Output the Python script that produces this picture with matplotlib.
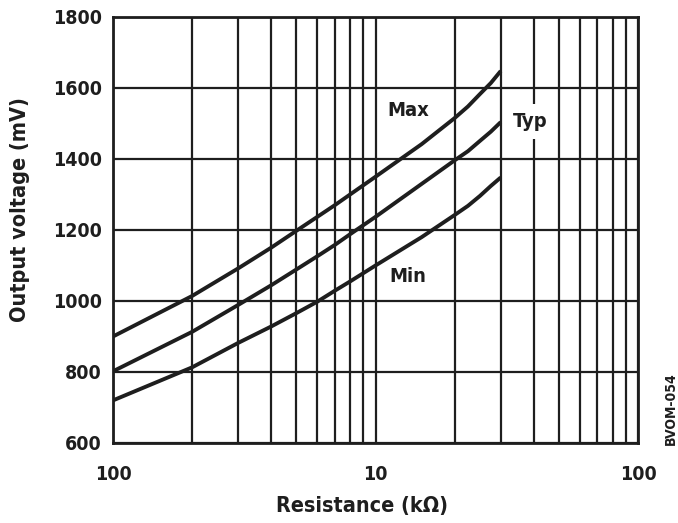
import matplotlib
matplotlib.use('Agg')
import matplotlib.pyplot as plt
from matplotlib.ticker import FixedLocator, NullFormatter

# resistance (kOhm) and output voltage (mV)
res = [1, 2, 3, 4, 5, 6, 7, 8, 10, 15, 20, 22.5, 25, 27.5, 30]
v_max = [900, 1014, 1092, 1150, 1198, 1237, 1270, 1300, 1350, 1442, 1515, 1548, 1583, 1614, 1648]
v_typ = [802, 913, 989, 1044, 1089, 1126, 1158, 1188, 1237, 1330, 1396, 1422, 1451, 1477, 1504]
v_min = [720, 813, 882, 928, 966, 998, 1029, 1055, 1100, 1180, 1242, 1268, 1296, 1324, 1348]

xtick_vals = [1, 10, 100]
xtick_labels = ['100', '10', '100']
ytick_vals = [600, 800, 1000, 1200, 1400, 1600, 1800]

plt.rcParams['font.family'] = ['DejaVu Sans']
plt.rcParams['font.stretch'] = 'condensed'
plt.rcParams['font.weight'] = 'bold'
ink = '#1e1e1e'

fig = plt.figure(figsize=(6.78, 5.23), dpi=100)
ax = fig.add_axes([0.1667, 0.153, 0.7743, 0.8145])

ax.set_xscale('log')
ax.set_xlim(1, 100)
ax.set_ylim(600, 1800)

minor = [m * d for d in (1, 10) for m in range(2, 10)]
ax.xaxis.set_major_locator(FixedLocator(xtick_vals))
ax.xaxis.set_minor_locator(FixedLocator(minor))
ax.xaxis.set_minor_formatter(NullFormatter())
ax.set_xticklabels(xtick_labels)
ax.set_yticks(ytick_vals)

ax.grid(True, which='both', axis='x', color=ink, lw=1.6)
ax.grid(True, which='major', axis='y', color=ink, lw=1.6)
ax.tick_params(which='both', length=0, labelsize=14, colors=ink)
ax.tick_params(axis='x', pad=16)
ax.tick_params(axis='y', pad=8)

for s in ax.spines.values():
    s.set_linewidth(2.0)
    s.set_color(ink)

for v in (v_max, v_typ, v_min):
    ax.plot(res, v, color=ink, lw=2.8, solid_capstyle='butt', zorder=3)

ax.text(13.3, 1538, 'Max', fontsize=14.5, ha='center', va='center', color=ink)
ax.text(38.8, 1506, 'Typ', fontsize=14.5, ha='center', va='center', color=ink, zorder=4,
        bbox=dict(facecolor='white', edgecolor='none', pad=6))
ax.text(13.3, 1068, 'Min', fontsize=14.5, ha='center', va='center', color=ink)

ax.set_xlabel('Resistance (k\u03a9)', fontsize=15.5, fontweight='bold', color=ink)
ax.set_ylabel('Output voltage (mV)', fontsize=15.5, fontweight='bold', color=ink)
ax.xaxis.set_label_coords(0.474, -0.125)
ax.yaxis.set_label_coords(-0.158, 0.547)

fig.text(0.99, 0.218, 'BVOM-054', rotation=90, fontsize=10, color=ink,
         ha='center', va='center')

fig.savefig('out.png', dpi=100)
